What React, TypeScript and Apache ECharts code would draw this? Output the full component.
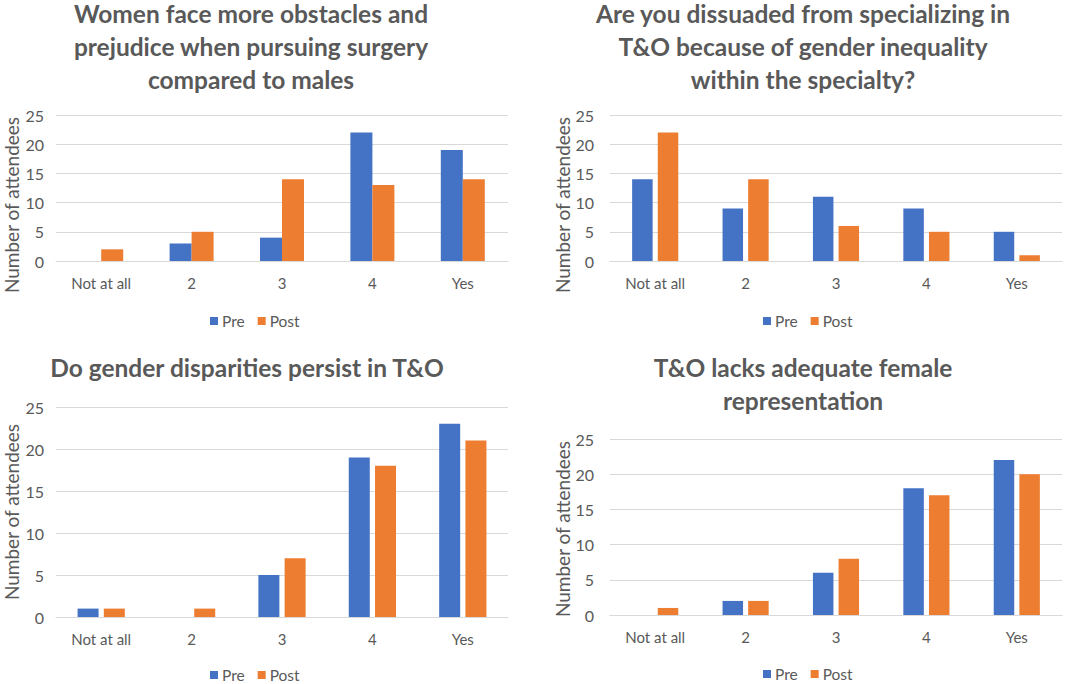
import React, { useEffect, useRef } from "react";
import * as echarts from "echarts";

const categories = ["Not at all", "2", "3", "4", "Yes"];
const seriesNames = ["Pre", "Post"];
const yTicks = { min: 0, max: 25, interval: 5 };

const titleLines = [
  ["Women face more obstacles and", "prejudice when pursuing surgery", "compared to males"],
  ["Are you dissuaded from specializing in", "T&O because of gender inequality", "within the specialty?"],
  ["Do gender disparities persist in T&O"],
  ["T&O lacks adequate female", "representation"],
];

const obstaclesPre = [0, 3, 4, 22, 19];
const obstaclesPost = [2, 5, 14, 13, 14];
const dissuadedPre = [14, 9, 11, 9, 5];
const dissuadedPost = [22, 14, 6, 5, 1];
const disparitiesPre = [1, 0, 5, 19, 23];
const disparitiesPost = [1, 1, 7, 18, 21];
const representationPre = [0, 2, 6, 18, 22];
const representationPost = [1, 2, 8, 17, 20];

const panelData = [
  [obstaclesPre, obstaclesPost],
  [dissuadedPre, dissuadedPost],
  [disparitiesPre, disparitiesPost],
  [representationPre, representationPost],
];

const yAxisName = "Number of attendees";

const COLORS = ["#4472C4", "#ED7D31"];
const TEXT = "#595959";
const GRIDLINE = "#D9D9D9";
const FONT = "Lato, 'Open Sans', sans-serif";

// layout per panel
const layout = [
  { grid: { left: 56, top: 115, width: 452, height: 146 }, titleX: 251, titleY: 13, nameX: 11, nameY: 205, legendLeft: 210, legendTop: 313, labelMargin: 12, barWidth: 22, barGap: "0%" },
  { grid: { left: 610, top: 115, width: 452, height: 146 }, titleX: 803, titleY: 13, nameX: 562, nameY: 205, legendLeft: 763, legendTop: 313, labelMargin: 16, barWidth: 20.5, barGap: "25%" },
  { grid: { left: 56, top: 407, width: 452, height: 210 }, titleX: 247, titleY: 367, nameX: 11, nameY: 512, legendLeft: 210, legendTop: 667, labelMargin: 12, barWidth: 21, barGap: "25%" },
  { grid: { left: 610, top: 439, width: 452, height: 176 }, titleX: 803, titleY: 367, nameX: 562, nameY: 529, legendLeft: 763, legendTop: 666, labelMargin: 16, barWidth: 20.5, barGap: "25%" },
];
const TITLE_LINE_GAP = 33;

export default function App() {
  const ref = useRef<HTMLDivElement>(null);

  useEffect(() => {
    if (!ref.current) return;
    const chart = echarts.init(ref.current, undefined, { renderer: "svg" });

    const series: any[] = [];
    panelData.forEach((pair, p) => {
      pair.forEach((values, s) => {
        series.push({
          type: "bar",
          name: seriesNames[s],
          xAxisIndex: p,
          yAxisIndex: p,
          data: values,
          barWidth: layout[p].barWidth,
          barGap: layout[p].barGap,
          itemStyle: { color: COLORS[s] },
          emphasis: { disabled: true },
        });
      });
    });

    const graphic: any[] = [];
    titleLines.forEach((lines, p) => {
      lines.forEach((line, k) => {
        graphic.push({
          type: "text",
          x: layout[p].titleX,
          y: layout[p].titleY + k * TITLE_LINE_GAP,
          style: {
            text: line,
            fill: TEXT,
            fontSize: 24.5,
            lineHeight: 24,
            fontWeight: "bold",
            fontFamily: FONT,
            align: "center",
            verticalAlign: "middle",
          },
        });
      });
    });
    layout.forEach((l) => {
      graphic.push({
        type: "text",
        x: l.nameX,
        y: l.nameY,
        rotation: Math.PI / 2,
        style: {
          text: yAxisName,
          fill: TEXT,
          fontSize: 19,
          lineHeight: 19,
          fontFamily: FONT,
          align: "center",
          verticalAlign: "middle",
        },
      });
    });

    const option: any = {
      animation: false,
      backgroundColor: "#ffffff",
      textStyle: { fontFamily: FONT },
      grid: layout.map((l) => ({ ...l.grid, containLabel: false })),
      xAxis: layout.map((l, i) => ({
        type: "category",
        gridIndex: i,
        data: categories,
        axisLine: { show: true, lineStyle: { color: GRIDLINE, width: 1 } },
        axisTick: { show: false },
        axisLabel: { color: TEXT, fontSize: 15, fontFamily: FONT, margin: 14 },
      })),
      yAxis: layout.map((l, i) => ({
        type: "value",
        gridIndex: i,
        min: yTicks.min,
        max: yTicks.max,
        interval: yTicks.interval,
        axisLine: { show: false },
        axisTick: { show: false },
        splitLine: { lineStyle: { color: GRIDLINE, width: 1 } },
        axisLabel: { color: TEXT, fontSize: 16, fontFamily: FONT, margin: l.labelMargin },
      })),
      legend: layout.map((l) => ({
        data: seriesNames,
        left: l.legendLeft,
        top: l.legendTop,
        orient: "horizontal",
        padding: 0,
        itemWidth: 8,
        itemHeight: 8,
        itemGap: 13,
        icon: "rect",
        selectedMode: false,
        textStyle: { color: TEXT, fontSize: 15.5, lineHeight: 16, fontFamily: FONT, padding: [0, 0, 0, -1] },
      })),
      graphic,
      series,
    };

    chart.setOption(option);
    return () => chart.dispose();
  }, []);

  return (
    <div
      ref={ref}
      style={{ position: "fixed", left: 0, top: 0, width: 1080, height: 684, background: "#fff" }}
    />
  );
}
